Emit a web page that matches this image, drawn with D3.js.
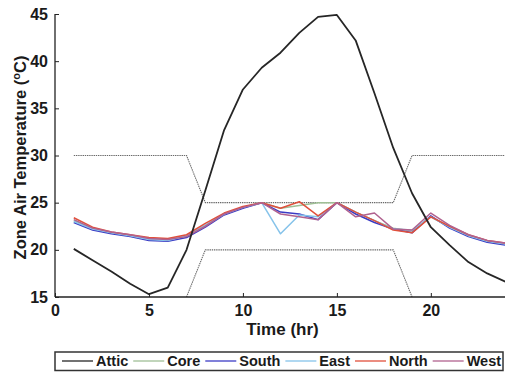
<!DOCTYPE html>
<html>
<head>
<meta charset="utf-8">
<script src="https://cdn.jsdelivr.net/npm/d3@7"></script>
<style>
  body { margin: 0; background: #fff; }
  text { font-family: "Liberation Sans", Arial, sans-serif; font-weight: bold; fill: #1a1a1a; }
</style>
</head>
<body>
<svg id="chart" width="505" height="373"></svg>
<script>
// hours 1..24
var hours = d3.range(1, 25);

// zone air temperatures (degC)
var attic = [20.1, 18.9, 17.7, 16.4, 15.3, 16.0, 20.0, 26.3, 32.7, 37.0, 39.3, 40.9, 43.0, 44.7, 44.9, 42.2, 36.6, 30.8, 26.0, 22.4, 20.5, 18.7, 17.5, 16.6];
var core  = [23.1, 22.3, 21.8, 21.5, 21.2, 21.1, 21.5, 22.6, 23.8, 24.5, 25.0, 24.4, 24.7, 25.0, 25.0, 24.0, 23.1, 22.3, 22.0, 23.5, 22.4, 21.5, 20.9, 20.6];
var south = [22.9, 22.1, 21.7, 21.4, 21.0, 20.9, 21.3, 22.4, 23.7, 24.4, 25.0, 24.0, 23.8, 23.2, 25.0, 23.8, 22.9, 22.2, 21.8, 23.6, 22.3, 21.4, 20.8, 20.5];
var east  = [23.0, 22.2, 21.8, 21.5, 21.1, 21.0, 21.5, 22.6, 23.8, 24.5, 25.0, 21.7, 23.7, 23.5, 25.0, 24.0, 23.1, 22.2, 22.1, 23.5, 22.4, 21.5, 20.9, 20.6];
var north = [23.4, 22.4, 21.9, 21.6, 21.3, 21.2, 21.6, 22.8, 23.9, 24.6, 25.0, 24.4, 25.1, 23.6, 25.0, 24.0, 23.1, 22.1, 21.8, 23.5, 22.5, 21.6, 21.0, 20.7];
var west  = [23.2, 22.3, 21.9, 21.6, 21.2, 21.1, 21.4, 22.5, 23.8, 24.5, 25.0, 23.8, 23.5, 23.2, 25.0, 23.5, 23.9, 22.2, 22.1, 23.9, 22.6, 21.6, 21.0, 20.7];

// thermostat set points (null = off the chart)
var upperSet = [30, 30, 30, 30, 30, 30, 30, 25, 25, 25, 25, 25, 25, 25, 25, 25, 25, 25, 30, 30, 30, 30, 30, 30];
var lowerSet = [null, null, null, null, null, null, 15, 20, 20, 20, 20, 20, 20, 20, 20, 20, 20, 20, 15, null, null, null, null, null];

var xTicks = [0, 5, 10, 15, 20];
var yTicks = [15, 20, 25, 30, 35, 40, 45];

var series = [
    {name: "Attic", values: attic, color: "#262626", width: 1.8},
    {name: "Core",  values: core,  color: "#9fbf96", width: 1.5},
    {name: "South", values: south, color: "#3b3bc4", width: 1.5},
    {name: "East",  values: east,  color: "#86c3ea", width: 1.5},
    {name: "North", values: north, color: "#e0503c", width: 1.5},
    {name: "West",  values: west,  color: "#b0628f", width: 1.5}
];

var svg = d3.select("#chart");
var pLeft = 55, pRight = 506, pTop = 14, pBottom = 297;

var x = d3.scaleLinear().domain([0, 24]).range([pLeft, pRight]);
var y = d3.scaleLinear().domain([15, 45]).range([pBottom, pTop]);

svg.append("clipPath").attr("id", "plotclip")
    .append("rect")
    .attr("x", pLeft).attr("y", pTop - 2)
    .attr("width", pRight - pLeft).attr("height", pBottom - pTop + 2);

var plot = svg.append("g").attr("clip-path", "url(#plotclip)");

function lineOf(vals) {
    return d3.line()
        .defined(function (d) { return d != null; })
        .x(function (d, i) { return x(hours[i]); })
        .y(function (d) { return y(d); })(vals);
}

// set point bands, dotted gray
[upperSet, lowerSet].forEach(function (s) {
    plot.append("path")
        .attr("d", lineOf(s))
        .attr("fill", "none")
        .attr("stroke", "#6a6a6a")
        .attr("stroke-width", 1.1)
        .attr("stroke-dasharray", "1.4,0.8");
});

// zones first, attic on top
series.slice(1).concat([series[0]]).forEach(function (s) {
    plot.append("path")
        .attr("d", lineOf(s.values))
        .attr("fill", "none")
        .attr("stroke", s.color)
        .attr("stroke-width", s.width)
        .attr("stroke-linejoin", "round");
});

// axes: ticks point inward
var xAxis = d3.axisBottom(x).tickValues(xTicks).tickSizeInner(-4).tickSizeOuter(0).tickPadding(8);
var yAxis = d3.axisLeft(y).tickValues(yTicks).tickSizeInner(-4).tickSizeOuter(0).tickPadding(7);

var gx = svg.append("g").attr("transform", "translate(0," + pBottom + ")").call(xAxis);
var gy = svg.append("g").attr("transform", "translate(" + pLeft + ",0)").call(yAxis);
[gx, gy].forEach(function (g) {
    g.selectAll("path").attr("stroke", "#222").attr("stroke-width", 1.3);
    g.selectAll("line").attr("stroke", "#222").attr("stroke-width", 1);
    g.selectAll("text").attr("font-size", 16).style("font-family", "'Liberation Sans', Arial, sans-serif").style("font-weight", "bold").attr("fill", "#1a1a1a");
});
gx.select(".domain").attr("d", "M" + pLeft + ",0H" + pRight);
gy.select(".domain").attr("d", "M0," + pBottom + "V" + pTop);

// axis titles
svg.append("text")
    .attr("x", (pLeft + pRight) / 2 + 2)
    .attr("y", 335)
    .attr("text-anchor", "middle")
    .attr("font-size", 17)
    .text("Time (hr)");

var yt = svg.append("text")
    .attr("transform", "translate(26," + ((pTop + pBottom) / 2 + 2) + ") rotate(-90)")
    .attr("text-anchor", "middle")
    .attr("font-size", 16.5);
yt.append("tspan").text("Zone Air Temperature (");
yt.append("tspan").attr("font-size", 11).attr("dy", -6).text("o");
yt.append("tspan").attr("dy", 6).text("C)");

// legend
var legend = svg.append("g");
legend.append("rect")
    .attr("x", 55).attr("y", 352)
    .attr("width", 448).attr("height", 18.5)
    .attr("fill", "#fff")
    .attr("stroke", "#333")
    .attr("stroke-width", 1.5);

var lx = 62;
series.forEach(function (s) {
    legend.append("line")
        .attr("x1", lx).attr("x2", lx + 31)
        .attr("y1", 361).attr("y2", 361)
        .attr("stroke", s.color)
        .attr("stroke-width", 1.3);
    var t = legend.append("text")
        .attr("x", lx + 34)
        .attr("y", 366)
        .attr("font-size", 14.5)
        .text(s.name);
    lx += 34 + t.node().getComputedTextLength() + 5;
});
</script>
</body>
</html>
